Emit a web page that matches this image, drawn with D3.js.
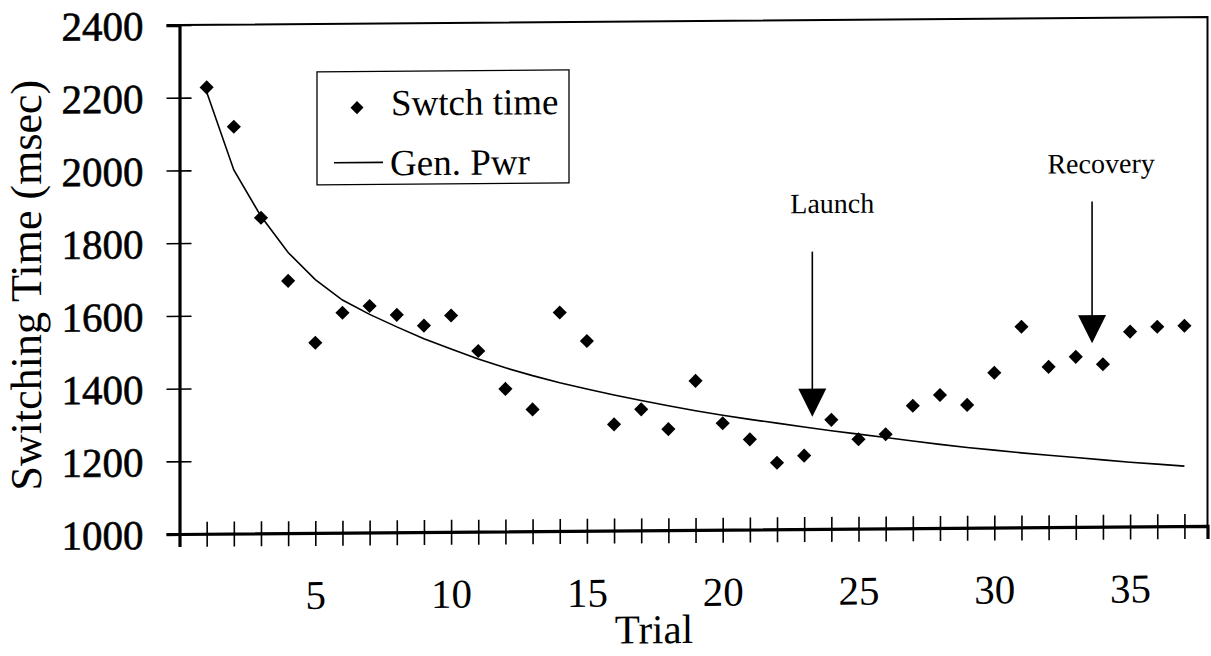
<!DOCTYPE html>
<html>
<head>
<meta charset="utf-8">
<script src="https://cdn.jsdelivr.net/npm/d3@7"></script>
<style>
  html, body { margin: 0; padding: 0; background: #fff; }
  svg { display: block; }
  text { font-family: "Liberation Serif", "Times New Roman", serif; fill: #000; }
</style>
</head>
<body>
<svg id="chart" width="1211" height="656"></svg>
<script>
// Trials 1..37 and measured switching times (msec)
const trials = d3.range(1, 38);
const switchTime = [
  2228, 2119, 1868, 1694, 1523, 1605, 1623, 1598, 1568, 1595,
  1497, 1392, 1335, 1601, 1522, 1292, 1333, 1278, 1410, 1293,
  1248, 1183, 1202, 1300, 1246, 1259, 1337, 1366, 1338, 1426,
  1552, 1441, 1468, 1447, 1536, 1549, 1551
];
// Generalized power-law fit evaluated at each trial
const genPower = [
  2215, 2000, 1872, 1772, 1697, 1640, 1600, 1565, 1532, 1503,
  1475, 1450, 1428, 1408, 1390, 1373, 1357, 1342, 1328, 1315,
  1303, 1292, 1281, 1270, 1260, 1250, 1240, 1230, 1221, 1213,
  1205, 1198, 1191, 1184, 1177, 1171, 1165
];
const yTicks = [1000, 1200, 1400, 1600, 1800, 2000, 2200, 2400];
const xLabelTicks = [5, 10, 15, 20, 25, 30, 35];
const seriesNames = ["Swtch time", "Gen. Pwr"];

// Event annotations: label, trial position, arrow extent (msec)
const eventLabels = ["Launch", "Recovery"];
const eventTrials = [23.3, 33.6];
const eventLabelValue = [1869, 1973];
const eventShaftTop = [1763, 1895];
const eventTip = [1309, 1505];

const svg = d3.select("#chart");
const plot = { left: 179.5, right: 1207.5, top: 25, bottom: 534 };

const x = d3.scaleLinear().domain([0, 37.85]).range([plot.left, plot.right]);
const y = d3.scaleLinear().domain([1000, 2400]).range([plot.bottom, plot.top]);

// the whole sheet sits with a very slight tilt
const g = svg.append("g")
  .attr("transform", `translate(180,0) skewY(-0.45) translate(-180,0)`);

// frame: top and right edges
g.append("path")
  .attr("d", `M${plot.left},${plot.top}H${plot.right}V${plot.bottom}`)
  .attr("fill", "none").attr("stroke", "#000").attr("stroke-width", 2);

// y axis
const yAxis = g.append("g")
  .attr("transform", `translate(${plot.left},0)`)
  .call(d3.axisLeft(y).tickValues(yTicks).tickSize(13).tickFormat(d3.format("d")));
yAxis.select(".domain").attr("stroke-width", 3.2);
yAxis.selectAll(".tick line").attr("x1", 12).attr("x2", -13).attr("stroke-width", 1.6);
yAxis.selectAll(".tick text")
  .attr("x", -36).attr("dy", "0.35em")
  .style("font-size", "41px").style("font-family", "Liberation Serif")
  .attr("stroke", "#000").attr("stroke-width", 0.6);

// x axis
const xAxis = g.append("g")
  .attr("transform", `translate(0,${plot.bottom})`)
  .call(d3.axisBottom(x).tickValues(trials).tickSize(13)
    .tickFormat(d => xLabelTicks.includes(d) ? d : ""));
xAxis.select(".domain").attr("stroke-width", 3.2);
xAxis.selectAll(".tick line").attr("y1", -12).attr("y2", 13).attr("stroke-width", 1.6);
xAxis.selectAll(".tick text")
  .attr("y", 76).attr("dy", 0)
  .style("font-size", "41px").style("font-family", "Liberation Serif");

// axis titles
g.append("text")
  .attr("x", 654).attr("y", 647).attr("text-anchor", "middle")
  .style("font-size", "41px").text("Trial");
g.append("text")
  .attr("transform", `translate(41,284) rotate(-90)`)
  .attr("text-anchor", "middle")
  .style("font-size", "44px").text("Switching Time (msec)");

// fitted curve
const line = d3.line().x((d, i) => x(trials[i])).y(d => y(d));
g.append("path")
  .datum(genPower)
  .attr("d", line)
  .attr("fill", "none").attr("stroke", "#000").attr("stroke-width", 1.6);

// observed points
const diamond = d3.symbol().type(d3.symbolSquare).size(100);
g.append("g").selectAll("path")
  .data(switchTime)
  .join("path")
  .attr("d", diamond)
  .attr("transform", (d, i) => `translate(${x(trials[i])},${y(d)}) rotate(45)`)
  .attr("fill", "#000");

// event arrows
eventLabels.forEach((lab, i) => {
  const cx = x(eventTrials[i]);
  const tipY = y(eventTip[i]);
  const headH = 28, headW = 14;
  g.append("line")
    .attr("x1", cx).attr("x2", cx)
    .attr("y1", y(eventShaftTop[i])).attr("y2", tipY - headH + 2)
    .attr("stroke", "#000").attr("stroke-width", 1.6);
  g.append("path")
    .attr("d", `M${cx - headW},${tipY - headH}L${cx + headW},${tipY - headH}L${cx},${tipY}Z`)
    .attr("fill", "#000");
  g.append("text")
    .attr("x", cx + (i === 0 ? 20 : 9)).attr("y", y(eventLabelValue[i]))
    .attr("text-anchor", "middle")
    .style("font-size", "28px").text(lab);
});

// legend
const lg = g.append("g");
lg.append("rect")
  .attr("x", 317).attr("y", 73).attr("width", 252).attr("height", 113)
  .attr("fill", "#fff").attr("stroke", "#000").attr("stroke-width", 1.3);
lg.append("path")
  .attr("d", d3.symbol().type(d3.symbolSquare).size(85))
  .attr("transform", "translate(357,109) rotate(45)")
  .attr("fill", "#000");
lg.append("text").attr("x", 391).attr("y", 117)
  .style("font-size", "37px").text(seriesNames[0]);
lg.append("line").attr("x1", 334).attr("x2", 383).attr("y1", 164).attr("y2", 164)
  .attr("stroke", "#000").attr("stroke-width", 1.6);
lg.append("text").attr("x", 390).attr("y", 177)
  .style("font-size", "37px").text(seriesNames[1]);
</script>
</body>
</html>
